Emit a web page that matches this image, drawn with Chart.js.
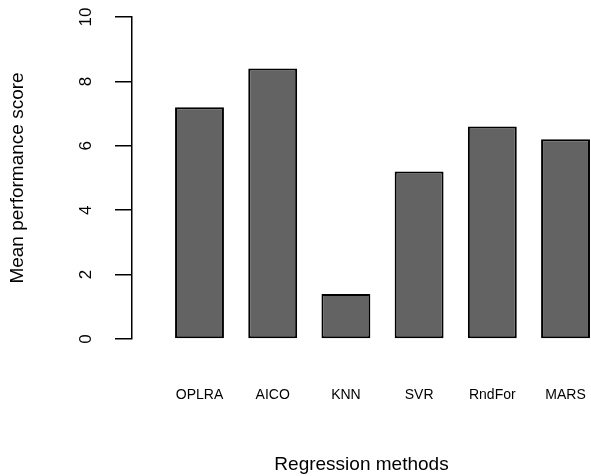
<!DOCTYPE html>
<html lang="en">
<head>
  <meta charset="UTF-8" />
  <title>Mean performance score by regression method</title>
  <script src="https://cdn.jsdelivr.net/npm/chart.js"></script>
  <style>
    body { margin: 0; background: white; }
    #wrap { width: 591px; height: 476px; }
  </style>
</head>
<body>
  <div id="wrap"><canvas id="scoreChart"></canvas></div>

  <script>
    const methods = ['OPLRA', 'AICO', 'KNN', 'SVR', 'RndFor', 'MARS'];
    const scores = [7.2, 8.4, 1.4, 5.2, 6.6, 6.2];
    const yTicks = [0, 2, 4, 6, 8, 10];

    const font = 'Liberation Sans, Arial, Helvetica, sans-serif';

    // bars sit at x = 1..n on a linear axis so the gap before the first bar matches R
    const points = methods.map((m, i) => ({ x: i + 1, y: scores[i] }));

    const ctx = document.getElementById('scoreChart').getContext('2d');
    new Chart(ctx, {
      type: 'bar',
      data: {
        datasets: [{
          data: points,
          backgroundColor: '#636363',
          borderColor: '#000000',
          borderWidth: 2,
          borderSkipped: false,
          categoryPercentage: 1,
          barPercentage: 0.668
        }]
      },
      options: {
        responsive: true,
        maintainAspectRatio: false,
        animation: false,
        layout: { padding: { top: 17, right: 0, bottom: 0, left: 0 } },
        plugins: {
          legend: { display: false },
          tooltip: { enabled: false }
        },
        scales: {
          x: {
            type: 'linear',
            offset: false,
            min: 0.078,
            max: 6.348,
            grid: { display: false, offset: false, drawTicks: true, tickLength: 48 },
            border: { display: false },
            afterBuildTicks: (scale) => {
              scale.ticks = methods.map((m, i) => ({ value: i + 1 }));
            },
            afterFit: (scale) => {
              scale.height = 137;
              scale.paddingLeft = 0;
              scale.paddingRight = 0;
            },
            ticks: {
              padding: 0,
              autoSkip: false,
              maxRotation: 0,
              color: '#000',
              font: { family: font, size: 14 },
              callback: (v) => methods[v - 1]
            },
            title: {
              display: true,
              text: 'Regression methods',
              color: '#000',
              font: { family: font, size: 19 },
              padding: { top: 0, bottom: 0 }
            }
          },
          y: {
            min: 0,
            max: 10,
            grid: {
              drawOnChartArea: false,
              drawTicks: true,
              tickLength: 17,
              color: '#000',
              lineWidth: 1.5
            },
            border: { display: true, color: '#000', width: 1.5 },
            afterBuildTicks: (scale) => {
              scale.ticks = yTicks.map(v => ({ value: v }));
            },
            afterFit: (scale) => {
              scale.width = 132;
              scale.paddingTop = 0;
              scale.paddingBottom = 0;
            },
            ticks: {
              minRotation: 90,
              maxRotation: 90,
              crossAlign: 'center',
              padding: 19.5,
              autoSkip: false,
              color: '#000',
              font: { family: font, size: 17 }
            },
            title: {
              display: true,
              text: 'Mean performance score',
              color: '#000',
              font: { family: font, size: 19 },
              padding: { top: 6, bottom: 0 }
            }
          }
        }
      }
    });
  </script>
</body>
</html>
